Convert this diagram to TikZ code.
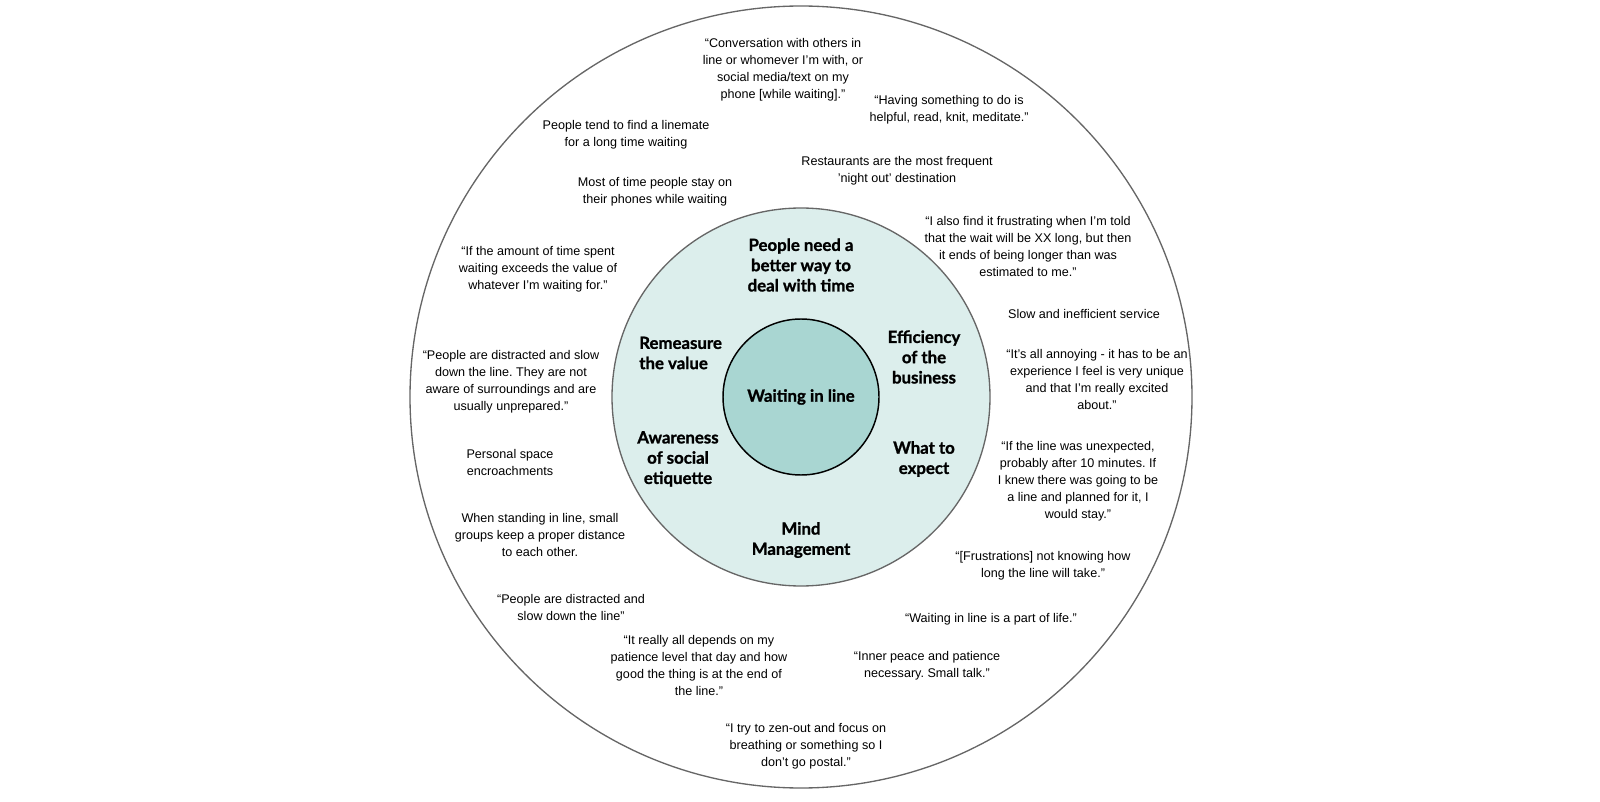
\documentclass[tikz,border=0pt]{standalone}
\usepackage{fontspec}
\setmainfont{Liberation Sans}
\newfontfamily\themefont{Lato}[BoldFeatures={FakeBold=1.2}]
\definecolor{ringfill}{HTML}{DCEEEC}
\definecolor{corefill}{HTML}{A9D6D2}
\definecolor{edge}{HTML}{666666}
\frenchspacing

\begin{document}
\begin{tikzpicture}[x=0.75pt,y=-0.75pt,
      q/.style={align=center,inner sep=0pt,font=\fontsize{9.45}{12.75}\selectfont},
      th/.style={align=center,inner sep=0pt,font=\themefont\bfseries\fontsize{12.6}{15.2}\selectfont},
      ring/.style={draw=edge,line width=1pt},
      core/.style={circle,draw=black,line width=1.1pt,fill=corefill,minimum size=117pt,inner sep=0pt}]
      \useasboundingbox (0,0) rectangle (1600,802);
      \coordinate (hub) at (801,397);
      \draw[ring] (hub) circle (391);
      \draw[ring,fill=ringfill] (hub) circle (189);
      \node[core,th] (wait) at (hub) {Waiting in line};
      % themes on the middle ring
      \node[th] (time) at (801,265) {People need a\\better way to\\deal with time};
      \node[th,align=left,anchor=west] (value) at (639,353) {Remeasure\\the value};
      \node[th] (effi) at (924,357) {Efficiency\\of the\\business};
      \node[th] (etiq) at (678,459) {Awareness\\of social\\etiquette};
      \node[th] (expc) at (924,459) {What to\\expect};
      \node[th] (mind) at (801,540) {Mind\\Management};
      % quotes and notes on the outer ring
      \node[q] (conv) at (783,70) {“Conversation with others in\\line or whomever I'm with, or\\social media/text on my\\phone [while waiting].”};
      \node[q] (todo) at (949,110) {“Having something to do is\\helpful, read, knit, meditate.”};
      \node[q] (mate) at (626,135) {People tend to find a linemate\\for a long time waiting};
      \node[q] (rest) at (897,171) {Restaurants are the most frequent\\'night out' destination};
      \node[q] (phon) at (655,192) {Most of time people stay on\\their phones while waiting};
      \node[q] (told) at (1028,246) {“I also find it frustrating when I'm told\\that the wait will be XX long, but then\\it ends of being longer than was\\estimated to me.”};
      \node[q] (worth) at (538,269) {“If the amount of time spent\\waiting exceeds the value of\\whatever I'm waiting for.”};
      \node[q] (slow) at (1084,314) {Slow and inefficient service};
      \node[q] (uniq) at (1097,379) {“It's all annoying - it has to be an\\experience I feel is very unique\\and that I'm really excited\\about.”};
      \node[q] (dist) at (511,382) {“People are distracted and slow\\down the line. They are not\\aware of surroundings and are\\usually unprepared.”};
      \node[q] (spac) at (510,462) {Personal space\\encroachments};
      \node[q] (plan) at (1078,481) {“If the line was unexpected,\\probably after 10 minutes. If\\I knew there was going to be\\a line and planned for it, I\\would stay.”};
      \node[q] (grp) at (540,535) {When standing in line, small\\groups keep a proper distance\\to each other.};
      \node[q] (frus) at (1043,566) {“[Frustrations] not knowing how\\long the line will take.”};
      \node[q] (slow2) at (571,607) {“People are distracted and\\slow down the line”};
      \node[q] (life) at (991,619) {“Waiting in line is a part of life.”};
      \node[q] (pati) at (699,665) {“It really all depends on my\\patience level that day and how\\good the thing is at the end of\\the line.”};
      \node[q] (peace) at (927,666) {“Inner peace and patience\\necessary. Small talk.”};
      \node[q] (zen) at (806,746) {“I try to zen-out and focus on\\breathing or something so I\\don't go postal.”};
\end{tikzpicture}
\end{document}
